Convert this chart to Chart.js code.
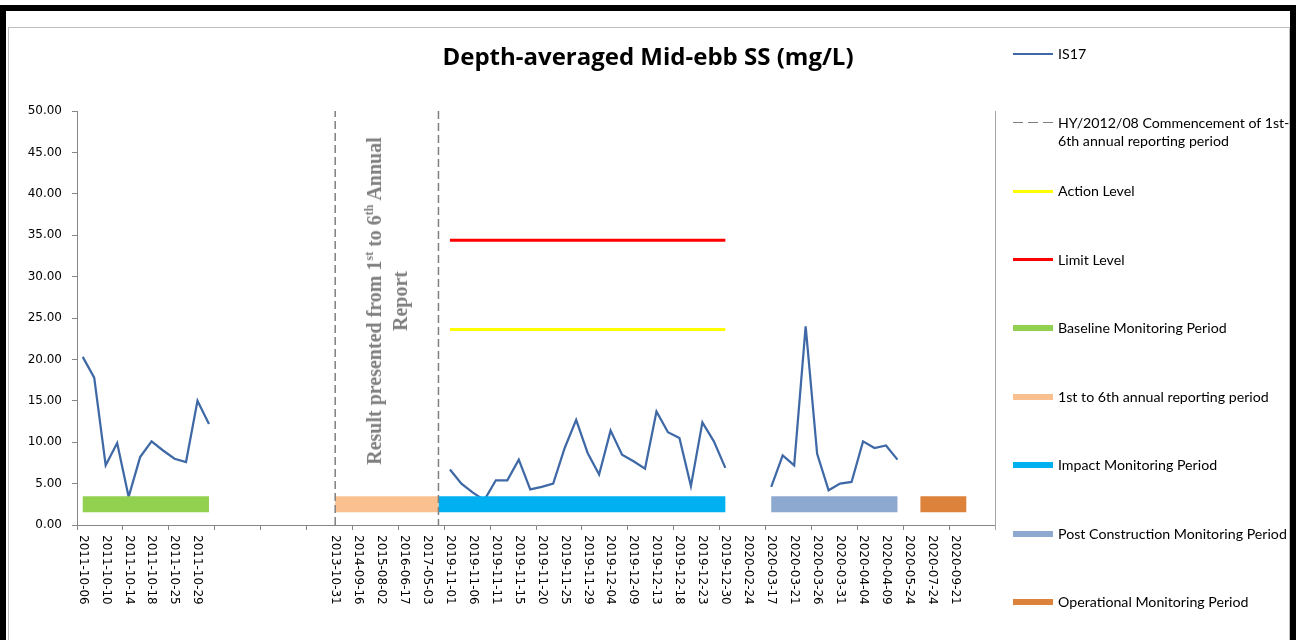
<!DOCTYPE html>
<html>
<head>
<meta charset="utf-8">
<script src="https://cdn.jsdelivr.net/npm/chart.js@4.4.1/dist/chart.umd.min.js"></script>
<style>
  html, body { margin: 0; padding: 0; background: #fff; }
  body { width: 1296px; height: 640px; position: relative; overflow: hidden; }
  .frame { position: absolute; left: 0; top: 5px; width: 1284px; height: 700px; border: 6px solid #000; }
  .inner { position: absolute; left: 8px; top: 27px; width: 1282px; height: 700px; box-sizing: border-box; border: 1px solid #bfbfbf; }
  #chart { position: absolute; left: 9px; top: 28px; }
  #legend { position: absolute; left: 1013px; top: 45px; width: 290px; font: 14.2px Lato, sans-serif; color: #000; }
  #legend .item { display: flex; height: 68.5px; align-items: flex-start; }
  #legend .swatch { width: 40px; height: 18px; margin-right: 5px; display: flex; align-items: center; flex: none; }
  #legend .swatch i { display: block; width: 40px; }
  #legend .txt { width: 236px; line-height: 18px; }
  #note { position: absolute; white-space: nowrap; text-align: center; transform: translate(-50%, -50%) rotate(-90deg);
          font: bold 20px "Liberation Serif", serif; color: #7f7f7f; line-height: 26px; }
  #note sup { font-size: 0.6em; line-height: 0; vertical-align: super; }
</style>
</head>
<body>
<div class="frame"></div>
<div class="inner"></div>
<canvas id="chart" width="1278" height="612"></canvas>
<div id="legend"></div>
<div id="note">Result presented from 1<sup>st</sup> to 6<sup>th</sup> Annual<br>Report</div>
<script>
// every second category carries a date label, the rest are blank
const tickLabels = [
  "2011-10-06", "2011-10-10", "2011-10-14", "2011-10-18", "2011-10-25", "2011-10-29",
  "", "", "", "", "",
  "2013-10-31", "2014-09-16", "2015-08-02", "2016-06-17", "2017-05-03",
  "2019-11-01", "2019-11-06", "2019-11-11", "2019-11-15", "2019-11-20", "2019-11-25",
  "2019-11-29", "2019-12-04", "2019-12-09", "2019-12-13", "2019-12-18", "2019-12-23",
  "2019-12-30", "2020-02-24", "2020-03-17", "2020-03-21", "2020-03-26", "2020-03-31",
  "2020-04-04", "2020-04-09", "2020-05-24", "2020-07-24", "2020-09-21", ""
];
const categories = tickLabels.flatMap((l) => [l, ""]);

// IS17 readings, by segment (start = category index)
const baselineStart = 0;
const baselineSS = [20.3, 17.8, 7.2, 9.9, 3.4, 8.2, 10.1, 9.0, 8.0, 7.6, 15.0, 12.2];
const impactStart = 32;
const impactSS = [6.7, 5.0, 3.9, 3.0, 5.4, 5.4, 7.9, 4.3, 4.6, 5.0, 9.3, 12.7, 8.7,
                  6.1, 11.4, 8.5, 7.7, 6.8, 13.7, 11.2, 10.5, 4.7, 12.4, 10.1, 6.9];
const postStart = 60;
const postSS = [4.6, 8.4, 7.2, 24.0, 8.6, 4.2, 5.0, 5.2, 10.1, 9.3, 9.6, 7.9];

const is17 = categories.map(() => null);
baselineSS.forEach((v, i) => (is17[baselineStart + i] = v));
impactSS.forEach((v, i) => (is17[impactStart + i] = v));
postSS.forEach((v, i) => (is17[postStart + i] = v));

// levels and periods: [first category, last category]
const actionLevel = 23.6;
const limitLevel = 34.4;
const levelSpan = [32, 56];
const periodLevel = 2.5;
const baselineSpan = [0, 11];
const annualSpan = [22, 31];
const impactSpan = [31, 56];
const postSpan = [60, 71];
const operationalSpan = [73, 77];
const commenceCats = [22, 31];
const yMin = 0, yMax = 50;

const seg = (span, y) => span.map((x) => ({ x, y }));

const decoPlugin = {
  id: "deco",
  afterDraw(chart) {
    const { ctx, chartArea: a, scales } = chart;
    const x = scales.x;
    ctx.save();
    ctx.strokeStyle = "#a6a6a6";
    ctx.lineWidth = 1;
    ctx.beginPath();
    ctx.moveTo(Math.round(a.right) + 0.5, a.top);
    ctx.lineTo(Math.round(a.right) + 0.5, a.bottom + 5);
    ctx.stroke();
    // date labels read top to bottom
    ctx.fillStyle = "#000";
    ctx.font = '12px "DejaVu Sans"';
    ctx.textAlign = "left";
    ctx.textBaseline = "middle";
    x.getLabels().forEach((lab, i) => {
      if (!lab) return;
      ctx.save();
      ctx.translate(x.getPixelForValue(i), a.bottom + 10);
      ctx.rotate(Math.PI / 2);
      ctx.fillText(lab, 0, 0);
      ctx.restore();
    });
    ctx.restore();
  },
};

const chart = new Chart(document.getElementById("chart"), {
  type: "line",
  data: {
    labels: categories,
    datasets: [
      { label: "IS17", data: is17, borderColor: "#3F69A6", borderWidth: 2.25, order: 1 },
      {
        label: "HY/2012/08 Commencement of 1st-6th annual reporting period",
        xAxisID: "xl",
        data: [{ x: commenceCats[0], y: yMin }, { x: commenceCats[0], y: yMax },
               { x: commenceCats[0], y: null },
               { x: commenceCats[1], y: yMax }, { x: commenceCats[1], y: yMin }],
        borderColor: "#7f7f7f", borderWidth: 1.5, borderDash: [8, 4],
      },
      { label: "Action Level", xAxisID: "xl", data: seg(levelSpan, actionLevel), borderColor: "#FFFF00", borderWidth: 3 },
      { label: "Limit Level", xAxisID: "xl", data: seg(levelSpan, limitLevel), borderColor: "#FF0000", borderWidth: 3 },
      { label: "Baseline Monitoring Period", xAxisID: "xl", data: seg(baselineSpan, periodLevel), borderColor: "#92D050", borderWidth: 16 },
      { label: "1st to 6th annual reporting period", xAxisID: "xl", data: seg(annualSpan, periodLevel), borderColor: "#FAC090", borderWidth: 16 },
      { label: "Impact Monitoring Period", xAxisID: "xl", data: seg(impactSpan, periodLevel), borderColor: "#00B0F0", borderWidth: 16 },
      { label: "Post Construction Monitoring Period", xAxisID: "xl", data: seg(postSpan, periodLevel), borderColor: "#8EA9CF", borderWidth: 16 },
      { label: "Operational Monitoring Period", xAxisID: "xl", data: seg(operationalSpan, periodLevel), borderColor: "#DD823B", borderWidth: 16 },
    ],
  },
  options: {
    responsive: false,
    animation: false,
    devicePixelRatio: 1,
    layout: { padding: 0 },
    elements: {
      point: { radius: 0, hoverRadius: 0 },
      line: { tension: 0, borderCapStyle: "butt", fill: false },
    },
    plugins: {
      legend: { display: false },
      tooltip: { enabled: false },
      title: {
        display: true,
        text: "Depth-averaged Mid-ebb SS (mg/L)",
        color: "#000",
        font: { family: "Open Sans", size: 24, weight: "bold" },
        padding: { top: 15.6, bottom: 38.6 },
      },
    },
    scales: {
      x: {
        type: "category",
        offset: true,
        ticks: { display: false },
        grid: {
          offset: true,
          drawOnChartArea: false,
          tickLength: 5,
          color: (c) => (c.index % 4 === 0 ? "#868686" : "rgba(0,0,0,0)"),
        },
        border: { color: "#868686" },
        afterFit: (s) => { s.height = 115; },
      },
      xl: { type: "linear", display: false, min: -0.5, max: categories.length - 0.5 },
      y: {
        min: yMin,
        max: yMax,
        ticks: {
          stepSize: 5,
          autoSkip: false,
          padding: 10,
          color: "#000",
          font: { family: "DejaVu Sans", size: 12 },
          callback: (v) => v.toFixed(2),
        },
        grid: { drawOnChartArea: false, tickLength: 5, color: "#868686" },
        border: { color: "#868686" },
        afterFit: (s) => { s.width = 68; },
      },
      // empty box on the right that leaves room for the legend
      yr: {
        position: "right",
        min: yMin,
        max: yMax,
        ticks: { display: false },
        grid: { display: false },
        border: { display: false },
        afterFit: (s) => { s.width = 292; },
      },
    },
  },
  plugins: [decoPlugin],
});

// legend on the right, built from the datasets
const legendEl = document.getElementById("legend");
chart.data.datasets.forEach((ds) => {
  const item = document.createElement("div");
  item.className = "item";
  const sw = document.createElement("span");
  sw.className = "swatch";
  const ln = document.createElement("i");
  ln.style.height = Math.min(ds.borderWidth, 6) + "px";
  ln.style.background = ds.borderDash
    ? `repeating-linear-gradient(to right, ${ds.borderColor} 0 10px, transparent 10px 15px)`
    : ds.borderColor;
  sw.appendChild(ln);
  const txt = document.createElement("span");
  txt.className = "txt";
  txt.textContent = ds.label.replace(/-(?=\d)/g, "-\u200B");
  item.appendChild(sw);
  item.appendChild(txt);
  legendEl.appendChild(item);
});

// note between the two dashed lines
const cv = document.getElementById("chart");
const note = document.getElementById("note");
note.style.left = cv.offsetLeft + chart.scales.xl.getPixelForValue((commenceCats[0] + commenceCats[1]) / 2) + "px";
note.style.top = cv.offsetTop + chart.scales.y.getPixelForValue(27) + "px";
</script>
</body>
</html>
